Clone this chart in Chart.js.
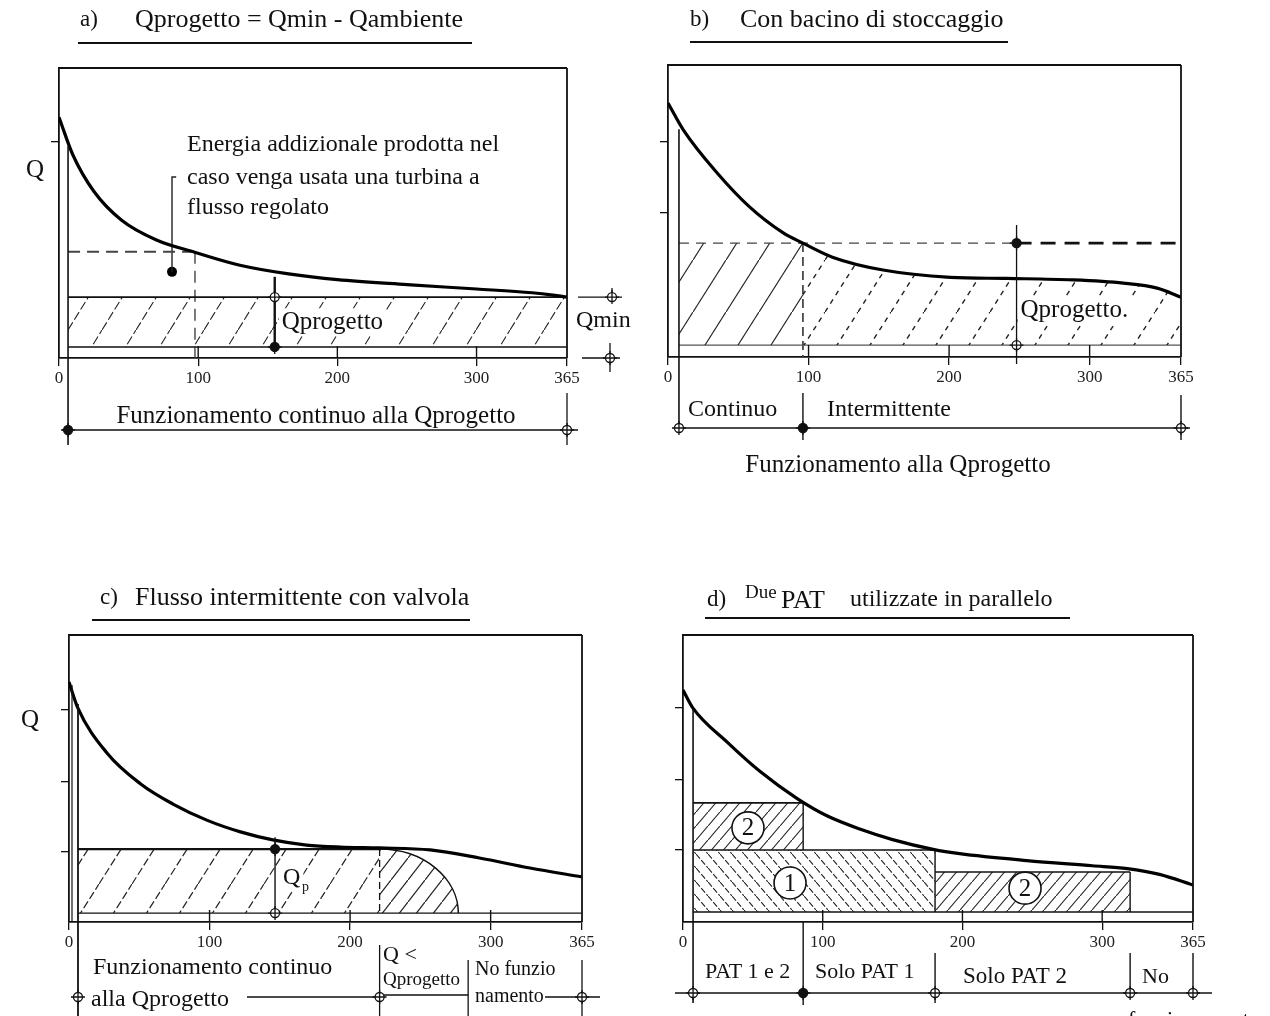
<!DOCTYPE html>
<html>
<head>
<meta charset="utf-8">
<script src="https://cdn.jsdelivr.net/npm/chart.js@4.4.1/dist/chart.umd.min.js"></script>
<style>
  html, body { margin: 0; padding: 0; background: #fff; }
  #wrap { position: relative; width: 1270px; height: 1016px; overflow: hidden; }
  canvas { position: absolute; left: 0; top: 0; }
</style>
</head>
<body>
<div id="wrap">
  <canvas id="pa" width="1270" height="1016"></canvas>
  <canvas id="pb" width="1270" height="1016"></canvas>
  <canvas id="pc" width="1270" height="1016"></canvas>
  <canvas id="pd" width="1270" height="1016"></canvas>
</div>
<script>
const SERIF = "'Liberation Serif', 'Times New Roman', serif";

// x axis: days of the year
const xTickValues = [0, 100, 200, 300, 365];
const xTickLabels = ['0', '100', '200', '300', '365'];

// a) flow duration curve, Q as % of the box height
const daysA = [0, 10, 25, 45, 70, 98, 130, 165, 200, 250, 300, 340, 355, 365];
const flowA = [83.0, 70.0, 57.5, 47.5, 40.7, 36.4, 32.0, 29.0, 27.0, 25.3, 23.8, 22.5, 21.7, 21.0];
const yTicksA = [74.5];
const startA = 6.5, qminA = 21.0, baseA = 3.8;
const dashQA = 36.6, dashDayA = 97.7, progDayA = 155, dotA = { x: 81.2, y: 29.7 };

// b) storage basin
const daysB = [0, 11, 35, 58, 82, 96, 117, 153, 201, 241, 288, 324, 348, 365];
const flowB = [87.0, 77.7, 63.0, 51.4, 42.5, 39.0, 34.2, 29.8, 27.3, 26.9, 26.4, 25.3, 23.6, 20.5];
const yTicksB = [73.6, 49.3];
const startB = 7.8, progB = 39.0, baseB = 4.1, splitB = 96, progDayB = 248;

// c) intermittent flow with valve
const daysC = [0, 6, 27, 51, 74, 98, 122, 145, 169, 193, 221, 257, 292, 328, 365];
const flowC = [83.6, 74.9, 58.9, 48.1, 41.1, 35.5, 31.4, 28.6, 26.8, 26.1, 25.8, 25.1, 22.3, 18.8, 15.7];
const yTicksC = [73.9, 48.8, 24.4];
const startC = 6.4, progC = 25.4, baseC = 3.1, contEndC = 221, stopC = 277, progDayC = 146.6, noRunC = 284;

// d) two PATs in parallel
const daysD = [0, 7, 32, 55, 82, 103, 127, 150, 179, 198, 246, 293, 318, 341, 365];
const flowD = [80.8, 74.6, 62.5, 52.5, 42.9, 37.0, 32.3, 28.7, 25.3, 23.8, 21.4, 19.6, 18.6, 16.6, 12.9];
const yTicksD = [74.6, 49.5, 25.1];
const startD = 7.2, baseD = 3.5;
const pat12D = [7.2, 86], pat1D = [7.2, 180.4], pat2D = [180.4, 320];
const q2topD = 41.5, q1D = 25.1, q2lowD = 17.4;

function hatch(w, h, dir, dash, lw) {
  const c = document.createElement('canvas');
  c.width = w; c.height = h;
  const g = c.getContext('2d');
  g.strokeStyle = '#222';
  g.lineWidth = lw || 1.1;
  if (dash) g.setLineDash(dash);
  g.beginPath();
  if (dir > 0) { g.moveTo(0, h); g.lineTo(w, 0); }
  else { g.moveTo(0, 0); g.lineTo(w, h); }
  g.stroke();
  return g.createPattern(c, 'repeat');
}

const pts = (xs, ys) => xs.map((x, i) => ({ x, y: ys[i] }));
const curve = (xs, ys) => ({ data: pts(xs, ys), borderColor: '#000', borderWidth: 3.2, cubicInterpolationMode: 'monotone', fill: false });
const seg = (x0, y0, x1, y1, o) => Object.assign({ data: [{ x: x0, y: y0 }, { x: x1, y: y1 }], borderColor: '#111', borderWidth: 1.4, fill: false }, o || {});
const area = (data, base, pattern, o) => Object.assign({ data, fill: { value: base }, backgroundColor: pattern, borderColor: '#111', borderWidth: 1.6 }, o || {});

function tools(c) {
  const ctx = c.ctx;
  const X = v => c.scales.x.getPixelForValue(v);
  const Y = v => c.scales.y.getPixelForValue(v);
  return {
    ctx, X, Y, area: c.chartArea,
    line(x0, y0, x1, y1, w, dash) {
      ctx.save();
      ctx.strokeStyle = '#111';
      ctx.lineWidth = w || 1.4;
      ctx.setLineDash(dash || []);
      ctx.beginPath(); ctx.moveTo(x0, y0); ctx.lineTo(x1, y1); ctx.stroke();
      ctx.restore();
    },
    text(s, x, y, size, align, bg) {
      ctx.save();
      ctx.font = size + 'px ' + SERIF;
      ctx.textAlign = align || 'left';
      ctx.textBaseline = 'middle';
      if (bg) {
        const w = ctx.measureText(s).width;
        const x0 = align === 'center' ? x - w / 2 : x;
        ctx.fillStyle = '#fff';
        ctx.fillRect(x0 - 3, y - size * 0.55, w + 6, size * 1.1);
      }
      ctx.fillStyle = '#111';
      ctx.fillText(s, x, y);
      ctx.restore();
    },
    mark(x, y, filled) {
      ctx.save();
      ctx.lineWidth = 1.3;
      ctx.strokeStyle = '#111';
      ctx.fillStyle = filled ? '#111' : '#fff';
      ctx.beginPath(); ctx.arc(x, y, 4.5, 0, Math.PI * 2); ctx.fill(); ctx.stroke();
      ctx.beginPath(); ctx.moveTo(x - 7, y); ctx.lineTo(x + 7, y); ctx.moveTo(x, y - 7); ctx.lineTo(x, y + 7); ctx.stroke();
      ctx.restore();
    },
    frame() {
      const a = c.chartArea;
      this.line(a.left, a.top, a.right, a.top, 1.8);
      this.line(a.right, a.top, a.right, a.bottom, 1.8);
      [100, 200, 300].forEach(v => this.line(X(v), a.bottom - 12, X(v), a.bottom, 1.4));
    },
    title(label, lx, txt, tx, y, ux0, ux1, uy) {
      this.text(label, lx, y, 23);
      this.text(txt, tx, y, 26);
      this.line(ux0, uy, ux1, uy, 2);
    }
  };
}

function makeChart(id, box, yTicks, datasets, extra) {
  return new Chart(document.getElementById(id), {
    type: 'line',
    data: { datasets },
    options: {
      responsive: false,
      animation: false,
      events: [],
      layout: { padding: { left: box.l - 10, top: box.t, right: 1270 - box.r, bottom: 1016 - box.b - 30 } },
      plugins: { legend: { display: false }, tooltip: { enabled: false } },
      elements: { point: { radius: 0 } },
      scales: {
        x: {
          type: 'linear', min: 0, max: 365, offset: false,
          afterBuildTicks: s => { s.ticks = xTickValues.map(v => ({ value: v })); },
          afterFit: s => { s.height = 30; },
          ticks: { autoSkip: false, maxRotation: 0, padding: 2, color: '#222', font: { family: SERIF, size: 17 },
                   callback: (v, i) => xTickLabels[i] },
          grid: { drawOnChartArea: false, drawTicks: true, tickLength: 8, color: '#111', lineWidth: 1.3 },
          border: { display: true, color: '#111', width: 1.8 }
        },
        y: {
          type: 'linear', min: 0, max: 100,
          afterBuildTicks: s => { s.ticks = yTicks.map(v => ({ value: v })); },
          afterFit: s => { s.width = 10; },
          ticks: { display: false },
          grid: { drawOnChartArea: false, drawTicks: true, tickLength: 8, color: '#111', lineWidth: 1.3 },
          border: { display: true, color: '#111', width: 1.8 }
        }
      }
    },
    plugins: [{
      id: 'extra_' + id,
      beforeDatasetsDraw: c => { if (extra.before) extra.before(tools(c)); },
      afterDatasetsDraw: c => { extra.after(tools(c)); }
    }]
  });
}

// ---------- a)
makeChart('pa', { l: 59, t: 68, r: 567, b: 358 }, yTicksA, [
  curve(daysA, flowA),
  area([{ x: startA, y: qminA }, { x: 365, y: qminA }], baseA, hatch(34, 55, 1, [9, 3])),
  seg(startA, baseA, 365, baseA, { borderWidth: 1.6 }),
  seg(startA, dashQA, dashDayA, dashQA, { borderDash: [12, 7], borderColor: '#444', borderWidth: 2 }),
  seg(dashDayA, dashQA, dashDayA, 0, { borderDash: [12, 7], borderColor: '#444', borderWidth: 1.4 }),
  { data: [{ x: dotA.x + 3, y: 62.4 }, { x: dotA.x, y: 62.4 }, dotA], borderColor: '#222', borderWidth: 1.4, fill: false },
  { data: [dotA], showLine: false, pointRadius: 5, pointBackgroundColor: '#000', pointBorderWidth: 0 }
], {
  after(t) {
    const a = t.area;
    t.frame();
    t.title('a)', 80, 'Qprogetto = Qmin - Qambiente', 135, 20, 78, 472, 43);
    t.line(t.X(startA), t.Y(73), t.X(startA), 445, 1.6);
    t.text('Qprogetto', t.X(progDayA) + 7, 322, 25, 'left', true);
    t.line(t.X(progDayA), t.Y(28), t.X(progDayA), t.Y(baseA) + 5, 2.4);
    t.mark(t.X(progDayA), t.Y(qminA), false);
    t.mark(t.X(progDayA), t.Y(baseA), true);
    t.text('Q', 35, 170, 25, 'center');
    t.text('Energia addizionale prodotta nel', 187, 145, 24);
    t.text('caso venga usata una turbina a', 187, 178, 24);
    t.text('flusso regolato', 187, 208, 24);
    // Qmin dimension on the right
    t.line(578, t.Y(qminA), 622, t.Y(qminA), 1.3);
    t.line(612, t.Y(qminA) - 9, 612, t.Y(qminA) + 4, 1.3);
    t.mark(612, t.Y(qminA), false);
    t.line(582, a.bottom, 620, a.bottom, 1.3);
    t.line(610, a.bottom - 15, 610, a.bottom + 14, 1.3);
    t.mark(610, a.bottom, false);
    t.text('Qmin', 576, 321, 24);
    // operating range below the axis
    t.line(t.X(0) + 3, 430, t.X(365) + 11, 430, 1.6);
    t.line(t.X(365), 393, t.X(365), 445, 1.3);
    t.mark(t.X(startA), 430, true);
    t.mark(t.X(365), 430, false);
    t.text('Funzionamento continuo alla Qprogetto', 316, 416, 25, 'center');
  }
});

// ---------- b)
makeChart('pb', { l: 668, t: 65, r: 1181, b: 357 }, yTicksB, [
  curve(daysB, flowB),
  seg(startB, progB, progDayB, progB, { borderDash: [10, 7], borderWidth: 1.2, borderColor: '#444' }),
  seg(progDayB, progB, 365, progB, { borderDash: [15, 9], borderWidth: 2.8 }),
  area([{ x: startB, y: progB }, { x: splitB, y: progB }], baseB, hatch(33, 52, 1, null, 1.2), { borderWidth: 0 }),
  area(pts(daysB, flowB).filter(p => p.x >= splitB), baseB, hatch(33, 52, 1, [5, 5], 1.4), { borderWidth: 0, cubicInterpolationMode: 'monotone' }),
  seg(startB, baseB, 365, baseB, { borderWidth: 1.2, borderColor: '#555' }),
  seg(splitB, progB, splitB, 0, { borderDash: [9, 5], borderWidth: 1.6, borderColor: '#333' })
], {
  after(t) {
    const a = t.area;
    t.frame();
    t.title('b)', 690, 'Con bacino di stoccaggio', 740, 20, 690, 1008, 42);
    t.line(t.X(startB), t.Y(78), t.X(startB), 432, 1.6);
    t.text('Qprogetto.', t.X(progDayB) + 4, 310, 25, 'left', true);
    t.line(t.X(progDayB), t.Y(45.2), t.X(progDayB), a.bottom + 7, 1.3);
    t.mark(t.X(progDayB), t.Y(progB), true);
    t.mark(t.X(progDayB), t.Y(baseB), false);
    t.line(t.X(startB), 428, 1190, 428, 1.6);
    t.line(t.X(splitB), 393, t.X(splitB), 440, 1.4);
    t.line(t.X(365), 395, t.X(365), 440, 1.4);
    t.mark(t.X(startB), 428, false);
    t.mark(t.X(splitB), 428, true);
    t.mark(t.X(365), 428, false);
    t.text('Continuo', 688, 410, 24);
    t.text('Intermittente', 827, 410, 24);
    t.text('Funzionamento alla Qprogetto', 898, 465, 25, 'center');
  }
});

// ---------- c)
makeChart('pc', { l: 69, t: 635, r: 582, b: 922 }, yTicksC, [
  curve(daysC, flowC),
  area([{ x: startC, y: progC }, { x: contEndC, y: progC }], baseC, hatch(33, 52, 1, [8, 3], 1.2), { borderWidth: 2.4 }),
  seg(startC, baseC, 365, baseC, { borderWidth: 1.4 }),
  seg(contEndC, progC, contEndC, baseC, { borderDash: [7, 4], borderWidth: 1.3 })
], {
  before(t) {
    // quarter ellipse: flow below Qprogetto throttled by the valve
    const cx = t.X(contEndC), cy = t.Y(baseC);
    const rx = t.X(stopC) - cx, ry = cy - t.Y(progC);
    const ctx = t.ctx;
    ctx.save();
    ctx.beginPath();
    ctx.moveTo(cx, cy);
    ctx.ellipse(cx, cy, rx, ry, 0, -Math.PI / 2, 0);
    ctx.closePath();
    ctx.fillStyle = hatch(17, 22, 1, null, 1.2);
    ctx.fill();
    ctx.beginPath();
    ctx.ellipse(cx, cy, rx, ry, 0, -Math.PI / 2, 0);
    ctx.strokeStyle = '#111'; ctx.lineWidth = 1.5;
    ctx.stroke();
    ctx.restore();
  },
  after(t) {
    const a = t.area;
    t.frame();
    t.title('c)', 100, 'Flusso intermittente con valvola', 135, 598, 92, 470, 620);
    t.line(a.left + 3, a.top + 50, a.left + 3, a.bottom, 1.2);
    t.line(t.X(startC), t.Y(76), t.X(startC), 1016, 1.8);
    t.text('Q', t.X(progDayC) + 8, 878, 24, 'left', true);
    t.text('p', t.X(progDayC) + 27, 887, 14);
    t.line(t.X(progDayC), t.Y(29.5), t.X(progDayC), t.Y(baseC), 1.4);
    t.mark(t.X(progDayC), t.Y(progC), true);
    t.mark(t.X(progDayC), t.Y(baseC), false);
    t.text('Q', 30, 720, 25, 'center');
    // operating ranges below the axis
    t.line(247, 997, t.X(contEndC), 997, 1.4);
    t.line(t.X(contEndC), 995, t.X(noRunC), 995, 1.4);
    t.line(545, 997, 600, 997, 1.4);
    t.line(t.X(contEndC), 945, t.X(contEndC), 1016, 1.3);
    t.line(t.X(noRunC), 960, t.X(noRunC), 1016, 1.3);
    t.line(t.X(365), 960, t.X(365), 1016, 1.3);
    t.mark(t.X(startC), 997, false);
    t.mark(t.X(contEndC), 997, false);
    t.mark(t.X(365), 997, false);
    t.text('Funzionamento continuo', 93, 968, 24);
    t.text('alla Qprogetto', 91, 1000, 24);
    t.text('Q <', 383, 955, 22);
    t.text('Qprogetto', 383, 980, 19);
    t.text('No funzio', 475, 970, 20);
    t.text('namento', 475, 997, 20);
  }
});

// ---------- d)
makeChart('pd', { l: 683, t: 635, r: 1193, b: 922 }, yTicksD, [
  curve(daysD, flowD),
  area([{ x: pat12D[0], y: q2topD }, { x: pat12D[1], y: q2topD }], q1D, hatch(12, 14, 1, null, 1.1)),
  seg(pat12D[1], q2topD, pat12D[1], q1D),
  area([{ x: pat1D[0], y: q1D }, { x: pat1D[1], y: q1D }], baseD, hatch(12, 14, -1, [6, 2], 1.1)),
  seg(pat1D[1], q1D, pat1D[1], baseD),
  area([{ x: pat2D[0], y: q2lowD }, { x: pat2D[1], y: q2lowD }], baseD, hatch(12, 14, 1, null, 1.1)),
  seg(pat2D[1], q2lowD, pat2D[1], baseD),
  seg(startD, baseD, 365, baseD, { borderWidth: 1.6 })
], {
  after(t) {
    t.frame();
    t.text('d)', 707, 600, 23);
    t.text('Due', 745, 593, 19);
    t.text('PAT', 781, 601, 26);
    t.text('utilizzate in parallelo', 850, 600, 24);
    t.line(705, 618, 1070, 618, 2);
    t.line(t.X(startD), t.Y(74), t.X(startD), 1003, 1.6);
    const circles = [{ x: 46.5, y: 32.8, s: '2' }, { x: 76.6, y: 13.6, s: '1' }, { x: 244.8, y: 11.8, s: '2' }];
    circles.forEach(p => {
      const ctx = t.ctx;
      ctx.save();
      ctx.beginPath(); ctx.arc(t.X(p.x), t.Y(p.y), 16, 0, Math.PI * 2);
      ctx.fillStyle = '#fff'; ctx.fill();
      ctx.lineWidth = 1.6; ctx.strokeStyle = '#111'; ctx.stroke();
      ctx.restore();
      t.text(p.s, t.X(p.x), t.Y(p.y) + 1, 25, 'center');
    });
    // operating ranges below the axis
    t.line(675, 993, 1212, 993, 1.6);
    t.line(t.X(pat12D[1]), t.area.bottom, t.X(pat12D[1]), 1005, 1.4);
    t.line(t.X(pat1D[1]), 953, t.X(pat1D[1]), 1003, 1.4);
    t.line(t.X(pat2D[1]), 953, t.X(pat2D[1]), 993, 1.4);
    t.line(t.X(365), 953, t.X(365), 993, 1.4);
    t.mark(t.X(startD), 993, false);
    t.mark(t.X(pat12D[1]), 993, true);
    t.mark(t.X(pat1D[1]), 993, false);
    t.mark(t.X(pat2D[1]), 993, false);
    t.mark(t.X(365), 993, false);
    t.text('PAT 1 e 2', 705, 972, 22);
    t.text('Solo PAT 1', 815, 972, 22);
    t.text('Solo PAT 2', 963, 977, 23);
    t.text('No', 1142, 977, 22);
    t.text('funzionamento', 1128, 1020, 22);
  }
});
</script>
</body>
</html>
